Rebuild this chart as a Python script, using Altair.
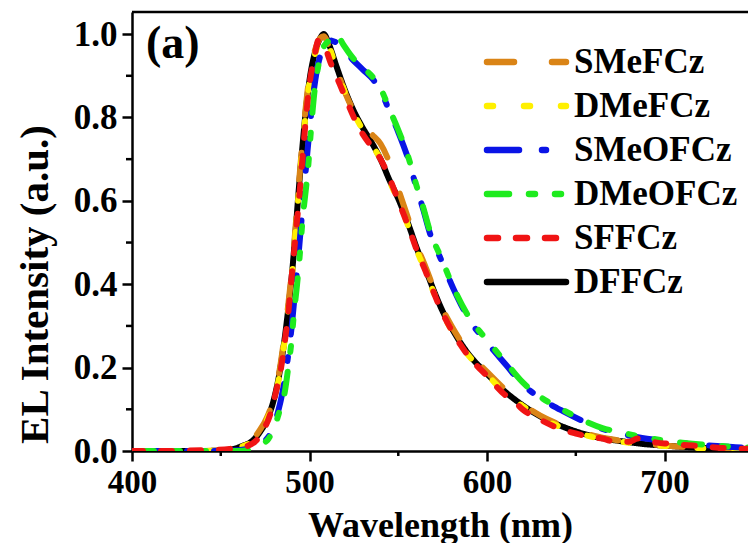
import altair as alt
import pandas as pd

# ---------------- data ----------------
order = ["SMeFCz", "DMeFCz", "SMeOFCz", "DMeOFCz", "SFFCz", "DFFCz"]
colors = ["#DA8416", "#FFF000", "#0A14E6", "#1EEB1E", "#F01414", "#000000"]
dashes = [[27, 38], [6, 31], [32, 23, 4, 23], [22, 20, 6, 20, 6, 20], [11, 18], [1, 0]]

wl_group1 = [400, 420, 440, 455, 462, 468, 472, 476, 480, 483, 486, 488, 490, 492, 494, 496,
             498, 500, 503, 506, 508, 511, 515, 520, 525, 530, 535, 540, 545, 550, 556, 561,
             565, 570, 575, 580, 585, 590, 600, 610, 620, 630, 640, 650, 660, 670, 680, 690,
             700, 710, 720, 730, 740, 748]
dffcz = [0, 0, 0, 0.003, 0.012, 0.025, 0.045, 0.075, 0.125, 0.185, 0.27, 0.34, 0.42, 0.52, 0.63, 0.73,
         0.82, 0.89, 0.955, 0.99, 1.0, 0.975, 0.925, 0.865, 0.815, 0.775, 0.74, 0.70, 0.65, 0.605, 0.54, 0.48,
         0.44, 0.385, 0.335, 0.295, 0.26, 0.23, 0.185, 0.143, 0.11, 0.083, 0.063, 0.047, 0.035, 0.027, 0.021, 0.016,
         0.013, 0.01, 0.008, 0.006, 0.005, 0.004]
smefcz = [0, 0, 0, 0.003, 0.012, 0.028, 0.05, 0.08, 0.13, 0.19, 0.28, 0.35, 0.43, 0.53, 0.64, 0.74,
          0.83, 0.9, 0.96, 0.99, 0.995, 0.97, 0.92, 0.86, 0.815, 0.782, 0.76, 0.737, 0.692, 0.628, 0.552, 0.487,
          0.445, 0.39, 0.34, 0.3, 0.265, 0.235, 0.19, 0.148, 0.112, 0.085, 0.065, 0.049, 0.037, 0.028, 0.022, 0.017,
          0.013, 0.01, 0.008, 0.006, 0.005, 0.004]
dmefcz = [0, 0, 0, 0.003, 0.011, 0.024, 0.044, 0.074, 0.122, 0.18, 0.265, 0.335, 0.415, 0.515, 0.625, 0.725,
          0.815, 0.885, 0.95, 0.985, 0.995, 0.97, 0.92, 0.86, 0.81, 0.77, 0.735, 0.70, 0.648, 0.6, 0.535, 0.475,
          0.435, 0.38, 0.33, 0.29, 0.255, 0.227, 0.183, 0.14, 0.108, 0.08, 0.06, 0.045, 0.033, 0.025, 0.02, 0.015,
          0.012, 0.009, 0.007, 0.005, 0.004, 0.003]

wl_sffcz = [400, 420, 440, 455, 460, 465, 470, 474, 478, 481, 484, 486, 488, 490, 492, 494, 496,
            498, 500, 503, 505, 508, 512, 516, 520, 525, 530, 535, 540, 545, 550, 556, 561, 565,
            570, 575, 580, 585, 590, 600, 610, 615, 620, 630, 640, 650, 660, 665, 670, 680, 685,
            690, 700, 705, 710, 720, 730, 740, 748]
sffcz = [0, 0, 0.002, 0.005, 0.008, 0.012, 0.025, 0.05, 0.09, 0.14, 0.2, 0.26, 0.33, 0.42, 0.51, 0.6, 0.7,
         0.8, 0.88, 0.95, 0.985, 0.975, 0.93, 0.89, 0.85, 0.8, 0.76, 0.73, 0.70, 0.655, 0.6, 0.535, 0.475, 0.435,
         0.38, 0.33, 0.29, 0.255, 0.225, 0.18, 0.135, 0.12, 0.1, 0.075, 0.055, 0.042, 0.032, 0.03, 0.024, 0.022, 0.03,
         0.025, 0.018, 0.02, 0.015, 0.012, 0.008, 0.006, 0.005]

wl_dmeofcz = [400, 420, 440, 460, 466, 470, 474, 477, 480, 482, 484, 486, 488, 490, 491, 493, 494.5,
              496, 498, 499, 501, 503, 504, 507, 511, 515, 519, 524, 530, 536, 540, 545, 550, 556,
              560, 564, 568, 574, 581, 590, 600, 611, 620, 630, 643, 655, 665, 675, 685, 700, 710,
              725, 740, 748]
dmeofcz = [0, 0, 0, 0, 0.003, 0.01, 0.018, 0.03, 0.055, 0.08, 0.11, 0.14, 0.2, 0.27, 0.32, 0.40, 0.47,
           0.55, 0.63, 0.67, 0.78, 0.87, 0.9, 0.96, 0.985, 1.0, 0.975, 0.945, 0.92, 0.895, 0.87, 0.82, 0.77, 0.70,
           0.64, 0.585, 0.525, 0.465, 0.393, 0.32, 0.266, 0.21, 0.165, 0.13, 0.098, 0.072, 0.055, 0.045, 0.036, 0.025, 0.02,
           0.014, 0.01, 0.008]

wl_smeofcz = [400, 420, 440, 460, 465, 470, 474, 477, 480, 482, 484, 486, 488, 490, 492, 494, 496,
              498, 500, 502, 504, 507, 511, 515, 519, 524, 530, 536, 540, 545, 550, 556, 560, 564,
              568, 574, 581, 590, 600, 611, 620, 630, 643, 655, 665, 675, 685, 700, 710, 725, 740, 748]
smeofcz = [0, 0, 0, 0.002, 0.005, 0.012, 0.022, 0.035, 0.06, 0.09, 0.125, 0.17, 0.23, 0.3, 0.39, 0.48, 0.58,
           0.68, 0.77, 0.85, 0.91, 0.96, 0.985, 0.98, 0.965, 0.94, 0.915, 0.89, 0.865, 0.815, 0.765, 0.695, 0.635, 0.58,
           0.52, 0.46, 0.39, 0.315, 0.26, 0.205, 0.16, 0.127, 0.095, 0.07, 0.053, 0.042, 0.033, 0.024, 0.019, 0.013, 0.009, 0.007]

series = {
    "DFFCz": (wl_group1, dffcz),
    "SMeFCz": (wl_group1, smefcz),
    "DMeFCz": (wl_group1, dmefcz),
    "SMeOFCz": (wl_smeofcz, smeofcz),
    "DMeOFCz": (wl_dmeofcz, dmeofcz),
    "SFFCz": (wl_sffcz, sffcz),
}
draw_order = ["DFFCz", "SMeFCz", "DMeFCz", "SMeOFCz", "DMeOFCz", "SFFCz"]

x_major = [400, 500, 600, 700]
x_minor = [450, 550, 650]
y_major = [0.0, 0.2, 0.4, 0.6, 0.8, 1.0]
y_minor = [0.1, 0.3, 0.5, 0.7, 0.9]
panel_label = ["(a)"]

# ---------------- chart ----------------
W, H = 616, 439
FONT = "Liberation Serif"
x_scale = alt.Scale(domain=[400, 747.0], nice=False, zero=False)
y_scale = alt.Scale(domain=[0, 1.053], nice=False, zero=False)
color_scale = alt.Scale(domain=order, range=colors)
dash_scale = alt.Scale(domain=order, range=dashes)

x_enc = alt.X("wl:Q", scale=x_scale,
              axis=alt.Axis(values=x_major, title="Wavelength (nm)", format="d",
                            titleY=85, titleBaseline="alphabetic", titleFontSize=36,
                            labelPadding=5, labelFontSize=33, labelFlush=False))
y_enc = alt.Y("I:Q", scale=y_scale,
              axis=alt.Axis(values=y_major, title="EL Intensity (a.u.)", format=".1f",
                            titleX=-85, titleY=272, titleBaseline="alphabetic",
                            titleAngle=-90, titleFontSize=41, titleAlign="center",
                            labelPadding=5, labelFlush=False))

line_layers = []
for name in draw_order:
    wl, vals = series[name]
    df = pd.DataFrame({"wl": wl, "I": vals, "series": name})
    line_layers.append(
        alt.Chart(df).mark_line(strokeWidth=6, strokeCap="round", interpolate="monotone", clip=True)
        .encode(x=x_enc, y=y_enc,
                color=alt.Color("series:N", scale=color_scale, legend=None),
                strokeDash=alt.StrokeDash("series:N", scale=dash_scale, legend=None))
    )

minor_x = alt.Chart(pd.DataFrame({"wl": x_minor})).mark_rule(color="black", strokeWidth=2.5, clip=False).encode(
    x=alt.X("wl:Q", scale=x_scale), y=alt.value(H), y2=alt.value(H + 5))
minor_y = alt.Chart(pd.DataFrame({"I": y_minor})).mark_rule(color="black", strokeWidth=2.5, clip=False).encode(
    y=alt.Y("I:Q", scale=y_scale), x=alt.value(0), x2=alt.value(-6))
top_frame = alt.Chart(pd.DataFrame({"a": [0]})).mark_rule(color="black", strokeWidth=2.5).encode(
    x=alt.value(0), x2=alt.value(W), y=alt.value(0))
label_a = alt.Chart(pd.DataFrame({"t": panel_label})).mark_text(
    font=FONT, fontWeight="bold", fontSize=46, align="left", baseline="alphabetic", color="black").encode(
    text="t:N", x=alt.value(14), y=alt.value(46))

main = alt.layer(top_frame, *line_layers, minor_x, minor_y, label_a)

leg_df = pd.DataFrame({"series": order})
leg_y = alt.Y("series:N", scale=alt.Scale(type="point", domain=order, range=[50, 270], padding=0), axis=None)
leg_rules = alt.Chart(leg_df).mark_rule(strokeWidth=6.5, strokeCap="round").encode(
    y=leg_y, x=alt.value(355), x2=alt.value(434),
    color=alt.Color("series:N", scale=color_scale, legend=None),
    strokeDash=alt.StrokeDash("series:N", scale=dash_scale, legend=None))
leg_text = alt.Chart(leg_df).mark_text(font=FONT, fontWeight="bold", fontSize=35, align="left",
                                       baseline="middle", color="black").encode(
    y=leg_y, x=alt.value(442), text="series:N")
legend = alt.layer(leg_rules, leg_text)

chart = alt.layer(main, legend).resolve_scale(y="independent").properties(
    width=W, height=H,
    autosize=alt.AutoSizeParams(type="none"),
    padding={"left": 132, "top": 12, "right": 0, "bottom": 92},
    background="white",
).configure_view(stroke=None).configure_axis(
    domainColor="black", domainWidth=2.5, tickColor="black", tickWidth=2.5, tickSize=10,
    labelFont=FONT, labelFontWeight="bold", labelFontSize=35, labelColor="black",
    titleFont=FONT, titleFontWeight="bold", titleColor="black", grid=False,
)

chart.save("out.html", embed_options={"renderer": "svg", "actions": False})
